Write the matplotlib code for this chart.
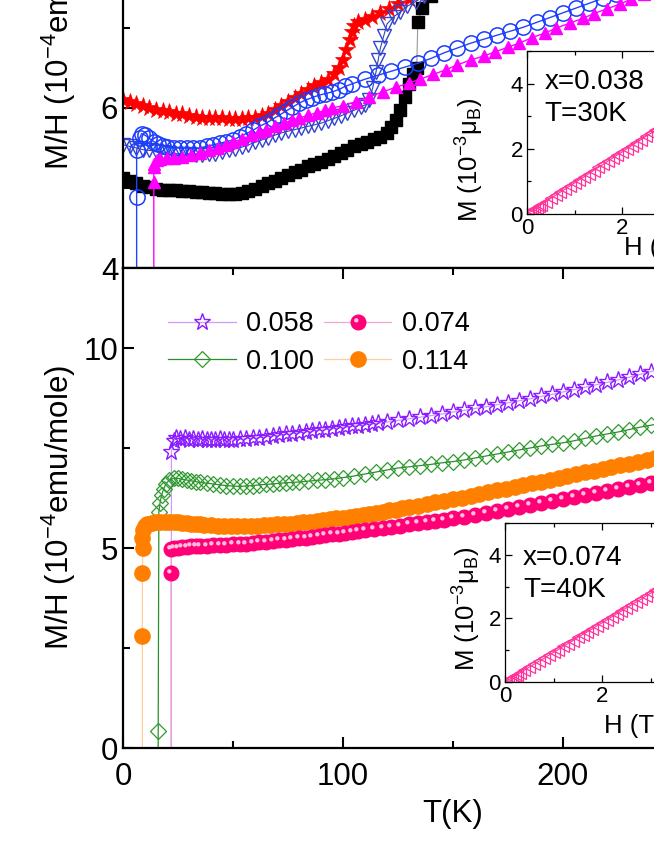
import matplotlib
matplotlib.use('Agg')
import matplotlib.pyplot as plt
from matplotlib.path import Path
from matplotlib.markers import MarkerStyle
from matplotlib.legend_handler import HandlerTuple
from matplotlib.ticker import MultipleLocator

plt.rcParams['font.family'] = ['Liberation Sans', 'DejaVu Sans']
plt.rcParams['mathtext.fontset'] = 'custom'
plt.rcParams['mathtext.rm'] = 'Liberation Sans'
plt.rcParams['mathtext.default'] = 'regular'

# =============================================
# DATA - bottom panel (M/H vs T)
# =============================================
t_058 = [22, 22, 23, 24, 26, 28, 30, 32, 34, 36, 38, 40, 42, 44, 46, 48, 50, 53, 56, 59,
         62, 65, 68, 71, 74, 77, 80, 83, 86, 89, 92, 95, 98, 101, 104, 107, 110, 113, 116, 120,
         125, 130, 135, 140, 145, 150, 155, 160, 165, 170, 175, 180, 185, 190, 195, 200, 205, 210, 215, 220,
         225, 230, 235, 240, 245, 250]
m_058 = [-1, 7.40, 7.68, 7.74, 7.72, 7.74, 7.71, 7.73, 7.70, 7.72, 7.69, 7.71, 7.70, 7.72, 7.69, 7.71, 7.70, 7.72, 7.73, 7.75,
         7.76, 7.78, 7.80, 7.82, 7.84, 7.86, 7.88, 7.90, 7.92, 7.94, 7.96, 7.98, 8.00, 8.02, 8.04, 8.06, 8.08, 8.10, 8.12, 8.15,
         8.19, 8.23, 8.27, 8.31, 8.35, 8.40, 8.44, 8.49, 8.53, 8.58, 8.63, 8.68, 8.73, 8.79, 8.84, 8.90, 8.96, 9.02, 9.08, 9.14,
         9.20, 9.27, 9.34, 9.41, 9.48, 9.55]

t_100 = [16, 16, 16.3, 16.8, 17.5, 18.5, 19.5, 21, 23, 25, 27, 29, 31, 33, 35, 38, 41, 44, 47, 50,
         53, 56, 59, 62, 65, 68, 71, 74, 77, 80, 84, 88, 92, 96, 100, 105, 110, 115, 120, 125,
         130, 135, 140, 145, 150, 155, 160, 165, 170, 175, 180, 185, 190, 195, 200, 205, 210, 215, 220, 225,
         230, 235, 240, 245, 250]
m_100 = [-1, 0.43, 5.90, 6.12, 6.32, 6.48, 6.60, 6.70, 6.74, 6.74, 6.72, 6.70, 6.68, 6.66, 6.64, 6.62, 6.60, 6.58, 6.56, 6.55,
         6.54, 6.55, 6.56, 6.58, 6.59, 6.60, 6.62, 6.63, 6.64, 6.65, 6.67, 6.69, 6.71, 6.73, 6.76, 6.80, 6.85, 6.90, 6.95, 7.00,
         7.03, 7.06, 7.09, 7.13, 7.16, 7.20, 7.25, 7.30, 7.35, 7.40, 7.45, 7.50, 7.55, 7.59, 7.63, 7.68, 7.74, 7.80, 7.85, 7.90,
         7.96, 8.02, 8.07, 8.12, 8.17]

t_074 = [21.8, 21.8, 22, 23, 25, 27, 29, 31, 33, 35, 38, 41, 44, 47, 50, 53, 56, 59, 62, 65,
         68, 71, 74, 77, 80, 83, 86, 89, 92, 95, 98, 101, 104, 107, 110, 114, 118, 122, 126, 130,
         134, 138, 142, 146, 150, 155, 160, 165, 170, 175, 180, 185, 190, 195, 200, 205, 210, 215, 220, 225,
         230, 235, 240, 245, 250]
m_074 = [-1, 4.37, 4.98, 5.00, 5.01, 5.02, 5.03, 5.04, 5.04, 5.05, 5.06, 5.07, 5.07, 5.08, 5.09, 5.10, 5.11, 5.12, 5.14, 5.15,
         5.17, 5.19, 5.20, 5.22, 5.24, 5.26, 5.28, 5.30, 5.32, 5.34, 5.36, 5.38, 5.40, 5.42, 5.44, 5.47, 5.50, 5.53, 5.56, 5.59,
         5.62, 5.65, 5.68, 5.71, 5.74, 5.78, 5.83, 5.88, 5.93, 5.98, 6.03, 6.08, 6.13, 6.18, 6.23, 6.28, 6.33, 6.38, 6.43, 6.48,
         6.53, 6.58, 6.63, 6.68, 6.73]

t_114 = [8.8, 8.8, 8.8, 9.0, 8.8, 9.0, 9.8, 11, 13, 15, 17, 19, 21, 23, 25, 27, 29, 31, 33, 35,
         37, 40, 43, 46, 49, 52, 55, 58, 61, 64, 67, 70, 73, 76, 79, 82, 85, 88, 91, 94,
         97, 100, 103, 106, 109, 112, 115, 118, 121, 124, 127, 130, 134, 138, 142, 146, 150, 154, 158, 162,
         166, 170, 174, 178, 182, 186, 190, 194, 198, 202, 206, 210, 214, 218, 222, 226, 230, 234, 238, 242,
         246, 250]
m_114 = [-1, 2.80, 4.37, 5.00, 5.25, 5.45, 5.55, 5.60, 5.63, 5.65, 5.66, 5.66, 5.66, 5.65, 5.64, 5.63, 5.62, 5.61, 5.60, 5.59,
         5.58, 5.57, 5.56, 5.56, 5.55, 5.55, 5.55, 5.56, 5.56, 5.57, 5.58, 5.59, 5.60, 5.61, 5.62, 5.64, 5.66, 5.68, 5.70, 5.72,
         5.74, 5.76, 5.78, 5.80, 5.83, 5.86, 5.88, 5.91, 5.94, 5.96, 5.99, 6.02, 6.06, 6.10, 6.14, 6.18, 6.22, 6.26, 6.31, 6.35,
         6.39, 6.44, 6.48, 6.53, 6.57, 6.62, 6.66, 6.71, 6.75, 6.80, 6.84, 6.89, 6.93, 6.98, 7.02, 7.07, 7.11, 7.16, 7.20, 7.25,
         7.29, 7.34]

# =============================================
# DATA - top panel
# =============================================
t_red = [0, 3, 6, 9, 12, 15, 18, 21, 24, 27, 30, 33, 36, 39, 42, 45, 48, 51, 54, 57,
         60, 63, 66, 69, 72, 75, 78, 81, 84, 87, 90, 93, 96, 98, 100, 101.5, 103, 104, 105, 107,
         110, 113, 117, 121, 125, 130, 135, 140, 150, 160]
m_red = [6.10, 6.08, 6.05, 6.02, 6.00, 5.98, 5.96, 5.95, 5.93, 5.92, 5.90, 5.89, 5.88, 5.88, 5.87, 5.87, 5.86, 5.86, 5.86, 5.87,
         5.88, 5.90, 5.93, 5.97, 6.02, 6.07, 6.12, 6.17, 6.22, 6.27, 6.31, 6.35, 6.42, 6.50, 6.60, 6.72, 6.85, 6.95, 7.02, 7.07,
         7.10, 7.14, 7.19, 7.24, 7.30, 7.36, 7.42, 7.48, 7.60, 7.72]

t_blk = [0, 3, 6, 9, 12, 15, 18, 21, 24, 27, 30, 33, 36, 39, 42, 45, 48, 51, 54, 57,
         60, 63, 66, 69, 72, 75, 78, 81, 84, 87, 90, 93, 96, 99, 102, 105, 108, 111, 114, 117,
         120, 122, 124, 126, 128, 130, 132, 133.5, 134, 136, 140, 145, 150]
m_blk = [5.12, 5.09, 5.06, 5.03, 5.01, 4.99, 4.98, 4.97, 4.97, 4.96, 4.96, 4.95, 4.95, 4.94, 4.94, 4.93, 4.93, 4.93, 4.94, 4.96,
         4.99, 5.02, 5.06, 5.09, 5.13, 5.16, 5.20, 5.23, 5.27, 5.30, 5.33, 5.36, 5.40, 5.44, 5.48, 5.52, 5.55, 5.58, 5.61, 5.64,
         5.69, 5.76, 5.85, 5.98, 6.14, 6.30, 6.42, 6.50, 7.07, 7.25, 7.40, 7.55, 7.70]

t_nav = [0, 3, 6, 9, 12, 15, 18, 21, 24, 27, 30, 33, 36, 39, 42, 45, 48, 51, 54, 57,
         60, 63, 66, 69, 72, 75, 78, 81, 84, 87, 90, 93, 96, 99, 102, 105, 108, 110, 112, 113.5,
         115, 116, 117, 118.5, 120, 123, 126, 129, 133, 137, 142]
m_nav = [5.54, 5.52, 5.50, 5.48, 5.47, 5.46, 5.45, 5.44, 5.43, 5.42, 5.42, 5.41, 5.41, 5.42, 5.43, 5.45, 5.47, 5.49, 5.51, 5.54,
         5.57, 5.60, 5.63, 5.66, 5.69, 5.71, 5.73, 5.75, 5.77, 5.79, 5.81, 5.84, 5.87, 5.90, 5.94, 5.97, 6.01, 6.04, 6.10, 6.25,
         6.45, 6.60, 6.75, 6.90, 7.05, 7.14, 7.20, 7.27, 7.33, 7.40, 7.47]

t_blu = [6.2, 6.2, 6.2, 7.5, 8.5, 10, 12, 14, 16, 18, 20, 23, 26, 29, 32, 35, 38, 41, 44, 47,
         50, 53, 56, 59, 62, 65, 68, 71, 74, 77, 80, 83, 86, 89, 92, 95, 98, 101, 104, 110,
         116, 122, 128, 134, 140, 146, 152, 158, 164, 170, 176, 182, 188, 194, 200, 206, 212, 218, 224, 230,
         236, 242, 248]
m_blu = [3.50, 4.89, 5.47, 5.62, 5.68, 5.66, 5.62, 5.58, 5.55, 5.53, 5.51, 5.50, 5.50, 5.50, 5.50, 5.50, 5.52, 5.54, 5.56, 5.58,
         5.60, 5.64, 5.68, 5.72, 5.77, 5.81, 5.86, 5.91, 5.96, 6.01, 6.06, 6.10, 6.13, 6.16, 6.18, 6.20, 6.23, 6.27, 6.30, 6.36,
         6.41, 6.46, 6.51, 6.56, 6.62, 6.69, 6.75, 6.81, 6.86, 6.91, 6.96, 7.01, 7.07, 7.13, 7.19, 7.25, 7.31, 7.37, 7.43, 7.49,
         7.55, 7.61, 7.67]

t_mag = [14, 14, 14, 14.2, 15.3, 17, 20, 23, 27, 31, 35, 39, 43, 47, 50, 54, 58, 62, 65, 69,
         73, 77, 80, 84, 88, 92, 95, 100, 106, 112, 118, 124, 130, 135, 141, 147, 152, 158, 164, 169,
         175, 180, 186, 192, 197, 203, 209, 214, 220, 226, 231, 237, 243, 248]
m_mag = [3.50, 5.08, 5.26, 5.30, 5.35, 5.36, 5.37, 5.38, 5.39, 5.41, 5.44, 5.47, 5.50, 5.54, 5.57, 5.61, 5.66, 5.70, 5.73, 5.77,
         5.81, 5.85, 5.87, 5.91, 5.94, 5.97, 6.00, 6.03, 6.08, 6.14, 6.20, 6.26, 6.31, 6.36, 6.42, 6.48, 6.54, 6.60, 6.65, 6.70,
         6.76, 6.81, 6.88, 6.94, 7.00, 7.06, 7.12, 7.18, 7.24, 7.30, 7.36, 7.42, 7.48, 7.54]

# =============================================
# DATA - insets M(H)
# =============================================
h_ins = [0, 0.03, 0.06, 0.1, 0.15, 0.2, 0.25, 0.3, 0.4, 0.5, 0.6, 0.7, 0.8, 0.9, 1.0, 1.1, 1.2, 1.3, 1.4, 1.5,
         1.6, 1.7, 1.8, 1.9, 2.0, 2.1, 2.2, 2.3, 2.4, 2.5, 2.6, 2.7, 2.8, 2.9, 3.0, 3.1, 3.2, 3.3]
m_ins_038 = [0, 0.03, 0.06, 0.10, 0.14, 0.19, 0.24, 0.29, 0.38, 0.48, 0.57, 0.67, 0.76, 0.86, 0.95, 1.05, 1.14, 1.24, 1.33, 1.43,
             1.52, 1.62, 1.71, 1.81, 1.90, 2.00, 2.09, 2.19, 2.28, 2.38, 2.47, 2.57, 2.66, 2.76, 2.85, 2.95, 3.04, 3.14]
m_ins_074 = [0, 0.03, 0.06, 0.09, 0.14, 0.19, 0.23, 0.28, 0.37, 0.47, 0.56, 0.65, 0.74, 0.84, 0.93, 1.02, 1.12, 1.21, 1.30, 1.40,
             1.49, 1.58, 1.67, 1.77, 1.86, 1.95, 2.05, 2.14, 2.23, 2.33, 2.42, 2.51, 2.60, 2.70, 2.79, 2.88, 2.98, 3.07]

# =============================================
# FIGURE
# =============================================
W, H = 654, 846
fig = plt.figure(figsize=(W / 100, H / 100), dpi=100)

def px_axes(x0, y_bottom, w, h):
    return fig.add_axes([x0 / W, (H - y_bottom) / H, w / W, h / H])

ax_top = px_axes(123, 268, 660, 480)
ax_bot = px_axes(123, 748, 660, 480)

TICK_FS = 22.5
YLAB = 'M/H (10$^{-4}$emu/mole)'
for ax in (ax_top, ax_bot):
    ax.set_xlim(0, 300)
    ax.xaxis.set_major_locator(MultipleLocator(100))
    ax.xaxis.set_minor_locator(MultipleLocator(50))
    ax.tick_params(which='both', direction='in', top=True, right=True, width=1.5, labelsize=TICK_FS)
    ax.tick_params(which='major', length=8)
    ax.tick_params(which='minor', length=5)
    for s in ax.spines.values():
        s.set_linewidth(1.6)
    ax.set_ylabel(YLAB, fontsize=TICK_FS, va='center')
    ax.yaxis.set_label_coords(-0.097, 0.5)

ax_bot.set_ylim(0, 12)
ax_bot.set_yticks([0, 5, 10])
ax_bot.yaxis.set_minor_locator(MultipleLocator(2.5))
ax_bot.tick_params(axis='x', pad=10)
ax_bot.set_xlabel('T(K)', fontsize=TICK_FS, labelpad=5)

ax_top.set_ylim(4, 10)
ax_top.set_yticks([4, 6, 8])
ax_top.yaxis.set_minor_locator(MultipleLocator(1))
ax_top.tick_params(axis='x', which='both', bottom=False, labelbottom=False)

# ball marker highlight (offset small circle)
hl_path = Path.make_compound_path(
    Path([(-1, -1)], [Path.MOVETO]),
    Path([(1, 1)], [Path.MOVETO]),
    Path.circle(center=(-0.3, 0.3), radius=0.3))
hl_marker = MarkerStyle(hl_path)

# ---------- top panel ----------
ax_top.plot(t_red, m_red, '-', color='#ff3030', lw=0.8, marker='*', ms=12.5,
            mfc='#ff0000', mec='#ff0000', mew=0.5)
ax_top.plot(t_blk, m_blk, '-', color='#999999', lw=0.8, marker='s', ms=8,
            mfc='black', mec='black')
ax_top.plot(t_nav, m_nav, '-', color='#3344bb', lw=0.8, marker='v', ms=9.5,
            mfc='none', mec='#3344cc', mew=1.0)
ax_top.plot(t_blu, m_blu, '-', color='#2244ff', lw=1.0, marker='o', ms=11,
            mfc='none', mec='#1a3cff', mew=1.1)
ax_top.plot(t_mag, m_mag, '-', color='#ff00ff', lw=1.0, marker='^', ms=9,
            mfc='#ff00ff', mec='#ff00ff')

# ---------- bottom panel ----------
l058, = ax_bot.plot(t_058, m_058, '-', color='#cf9bff', lw=0.9, marker='*', ms=12.5,
                    mfc='none', mec='#8a1cff', mew=1.0)
l100, = ax_bot.plot(t_100, m_100, '-', color='#2a8f2a', lw=0.9, marker='D', ms=8.5,
                    mfc='none', mec='#2f9a2f', mew=0.9)
l114, = ax_bot.plot(t_114, m_114, '-', color='#ffcf9f', lw=0.9, marker='o', ms=11,
                    mfc='#ff8000', mec='#ff8000')
l074, = ax_bot.plot(t_074, m_074, '-', color='#f0a8d0', lw=0.9, marker='o', ms=10.5,
                    mfc='#ff0077', mec='#ff0077')
h074, = ax_bot.plot(t_074, m_074, ls='none', marker=hl_marker, ms=10.5,
                    mfc='#ffc0dc', mec='none')

# column-major fill: col 1 = 0.058, 0.100 ; col 2 = 0.074, 0.114
leg = ax_bot.legend([l058, l100, (l074, h074), l114], ['0.058', '0.100', '0.074', '0.114'],
                    ncol=2, loc='upper left', bbox_to_anchor=(0.068, 0.91),
                    frameon=False, fontsize=19.5, handlelength=2.5, handletextpad=0.4,
                    columnspacing=0.35, labelspacing=0.42, borderpad=0, borderaxespad=0,
                    handler_map={tuple: HandlerTuple(ndivide=1, pad=0)})

# ---------- insets ----------
def make_inset(x0, yb, hpx, unit_px, hvals, mvals, text, text_y, ylab_xy, xlab_pad):
    ax = px_axes(x0, yb, unit_px * 5.3, hpx)
    ax.set_xlim(0, 5.3)
    ax.set_ylim(0, 5)
    ax.set_xticks([0, 2, 4])
    ax.set_yticks([0, 2, 4])
    ax.xaxis.set_minor_locator(MultipleLocator(1))
    ax.yaxis.set_minor_locator(MultipleLocator(1))
    ax.tick_params(which='both', direction='in', top=True, right=True, width=0.9,
                   labelsize=16, pad=3)
    ax.tick_params(which='major', length=5)
    ax.tick_params(which='minor', length=3)
    for s in ax.spines.values():
        s.set_linewidth(0.9)
    ax.plot(hvals, mvals, '-', color='#ff3399', lw=0.8, marker='<', ms=9,
            mfc='none', mec='#ff3399', mew=0.9)
    ax.text(0.07, text_y, text, transform=ax.transAxes, fontsize=20,
            va='top', ha='left', linespacing=1.3)
    ax.set_xlabel('H (T)', fontsize=18.5, labelpad=xlab_pad)
    ax.set_ylabel('M (10$^{-3}$μ$_B$)', fontsize=18.5, va='center')
    ax.yaxis.set_label_coords(*ylab_xy)
    return ax

ins_top = make_inset(527, 214, 163, 47.5, h_ins, m_ins_038, 'x=0.038\nT=30K', 0.89,
                     (-0.225, 0.33), -2)
ins_bot = make_inset(505, 682, 159, 48.5, h_ins, m_ins_074, 'x=0.074\nT=40K', 0.86,
                     (-0.15, 0.46), 5)

fig.savefig('out.png', dpi=100)
